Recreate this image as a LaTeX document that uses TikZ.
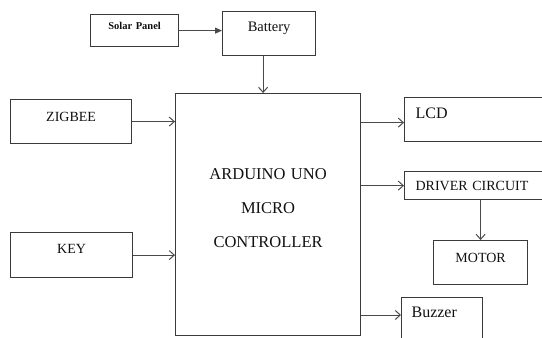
\documentclass[tikz,border=0pt]{standalone}
\usepackage{fontspec}
\setmainfont{Liberation Serif}
\usetikzlibrary{arrows.meta,calc}
\definecolor{kutuGri}{HTML}{3A3A3A}
\definecolor{okGri}{HTML}{4A4A4A}
\definecolor{yaziSiyah}{HTML}{101010}

\begin{document}
\begin{tikzpicture}[x=1pt,y=-1pt,
  blok/.style={draw=kutuGri,line width=1.2pt,anchor=north west,inner sep=0pt,
    text=yaziSiyah,font=\fontsize{14}{16}\selectfont},
  ok/.style={draw=okGri,line width=1pt,-{Straight Barb[length=5pt,width=9pt]}}]
\useasboundingbox (0,0) rectangle (542,338);
\clip (0,0) rectangle (542,338);
% left side and power
\node[blok,text width=88pt,align=center,text height=15.3pt,text depth=16.7pt,
  font=\bfseries\fontsize{10.5}{12}\selectfont] (gunes) at (90,14) {Solar Panel};
\node[blok,text width=93pt,align=center,text height=20pt,text depth=24pt,
  font=\fontsize{14.5}{16}\selectfont] (aku) at (222,11) {Battery};
\node[blok,text width=121pt,align=center,text height=22pt,text depth=22pt] (zigbee) at (10,99) {ZIGBEE};
\node[blok,text width=122pt,align=center,text height=21pt,text depth=24pt] (tus) at (10,232) {KEY};
% controller
\node[blok,text width=185pt,align=center,text height=86pt,text depth=156pt,
  font=\fontsize{16.5}{34}\selectfont] (arduino) at (175,93) {ARDUINO UNO\\MICRO\\CONTROLLER};
% right side
\node[blok,inner xsep=11pt,text width=134pt,align=left,text height=21pt,text depth=23pt,
  font=\fontsize{16}{18}\selectfont] (lcd) at (404,97) {LCD};
\node[blok,inner xsep=11pt,text width=134pt,align=left,text height=19pt,text depth=9pt] (surucu) at (404,171) {DRIVER CIRCUIT};
\node[blok,text width=94pt,align=center,text height=22pt,text depth=22pt] (motor) at (433,240) {MOTOR};
\node[blok,inner xsep=10pt,text width=61pt,align=left,text height=20pt,text depth=35pt,
  font=\fontsize{16}{18}\selectfont] (buzzer) at (401,297) {Buzzer};
% connectors
\draw[ok,-{Triangle[length=7pt,width=6pt]}] (gunes.east) -- (gunes.east -| aku.west);
\draw[ok] ([xshift=-6pt]aku.south) -- ([xshift=-6pt]aku.south |- arduino.north);
\draw[ok] (zigbee.east) -- (zigbee.east -| arduino.west);
\draw[ok] (tus.east) -- (tus.east -| arduino.west);
\draw[ok] ([yshift=-3pt]lcd.west -| arduino.east) -- ([yshift=-3pt]lcd.west);
\draw[ok] (surucu.west -| arduino.east) -- (surucu.west);
\draw[ok] ([yshift=-18pt]buzzer.north west -| arduino.east) -- ([yshift=-18pt]buzzer.north west);
\draw[ok] (motor.north |- surucu.south) -- (motor.north);
\end{tikzpicture}
\end{document}
